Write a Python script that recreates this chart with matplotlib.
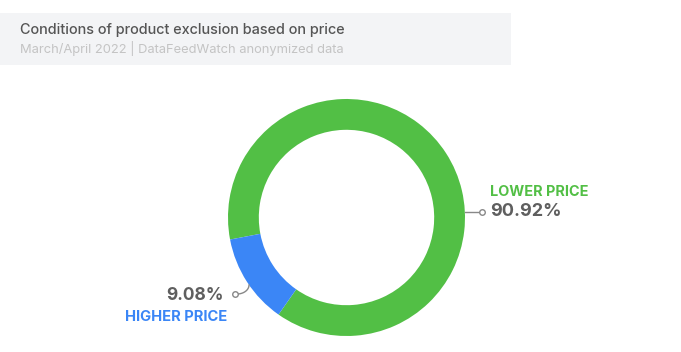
import matplotlib.pyplot as plt
from matplotlib.patches import Rectangle
import numpy as np

# Data
labels = ["LOWER PRICE", "HIGHER PRICE"]
values = [90.92, 9.08]          # printed percentages
# the drawn ring in the source is not proportional: blue arc spans ~44 deg
arc_share = [87.7, 12.3]
colors = ["#52bf45", "#3b86f6"]

W, H = 681, 352
fig = plt.figure(figsize=(W / 100, H / 100), dpi=100)
plt.rcParams['font.family'] = ['Inter', 'DejaVu Sans']

# header box
fig.patches.append(Rectangle((0, 1 - 65 / H), 511 / W, 52 / H, transform=fig.transFigure,
                             facecolor="#f3f4f6", edgecolor="none", zorder=0))
fig.text(20 / W, 1 - 30 / H, "Conditions of product exclusion based on price",
         fontsize=10.4, color="#555555", va="center", fontweight="medium")
fig.text(20 / W, 1 - 48 / H, "March/April 2022 | DataFeedWatch anonymized data",
         fontsize=9.3, color="#c4c4c4", va="center")

# donut
cx, cy, r = 346.5, 217.5, 118.5
ax = fig.add_axes([(cx - r) / W, 1 - (cy + r) / H, 2 * r / W, 2 * r / H])
ax.pie(arc_share, colors=colors, startangle=235, counterclock=True,
       wedgeprops=dict(width=0.26, edgecolor="none"))
ax.set_xlim(-1, 1)
ax.set_ylim(-1, 1)
ax.set_aspect("equal")
ax.axis("off")

# overlay axes in pixel coordinates for labels
ov = fig.add_axes([0, 0, 1, 1])
ov.set_xlim(0, W)
ov.set_ylim(H, 0)
ov.axis("off")

# lower price label
ov.plot([465, 481], [212, 212], color="#888888", lw=1)
ov.plot(482, 212, "o", ms=4, mfc="white", mec="#888888", mew=1)
ov.text(490, 192, labels[0], fontsize=10.4, fontweight="bold", color=colors[0], va="center")
ov.text(490, 212, f"{values[0]:.2f}%", fontsize=13, fontweight="bold", color="#5f5f5f", va="center")

# higher price label, curved leader
t = np.linspace(0, 1, 40)
bx = 237 + 12 * np.sin(t * np.pi / 2)
by = 294 - 9 * (1 - np.cos(t * np.pi / 2))
ov.plot(bx, by, color="#888888", lw=1)
ov.plot(235, 294, "o", ms=4, mfc="white", mec="#888888", mew=1)
ov.text(224, 295, f"{values[1]:.2f}%", fontsize=12.5, fontweight="bold", color="#5f5f5f",
        va="center", ha="right")
ov.text(227, 317, labels[1], fontsize=10.6, fontweight="bold", color=colors[1],
        va="center", ha="right")

fig.savefig("out.png", dpi=100)
